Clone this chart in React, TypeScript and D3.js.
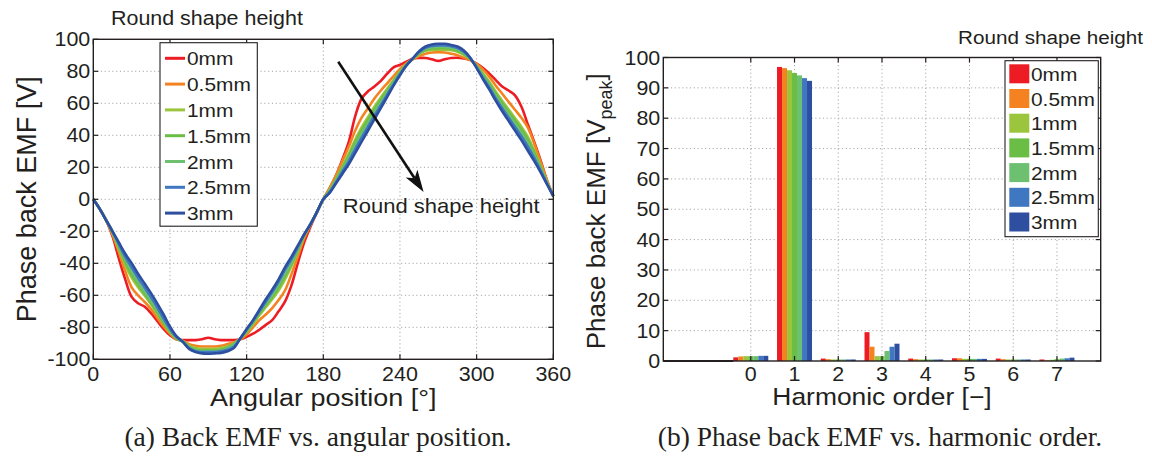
import React from "react";
import * as d3 from "d3";

// ---------- data ----------
const seriesNames = ["0mm", "0.5mm", "1mm", "1.5mm", "2mm", "2.5mm", "3mm"];
const seriesColors = ["#ED1C24", "#F58220", "#9BC53D", "#6ABD45", "#6CC070", "#3F78C1", "#2E4F9F"];

const angles = d3.range(0, 361, 5);

const emf0mm = [0, -6, -13, -23, -37, -50, -61, -65, -67, -71, -76, -81, -85, -87.5, -88, -88, -88, -87.5, -86.5, -87.5, -88, -88, -88, -87.5, -86, -84, -81.5, -78.5, -75.5, -70, -64, -54, -40, -27, -17, -8, 0,
  7, 15, 25, 36, 52, 63, 67.5, 70.5, 74, 78.5, 82.5, 84, 86, 87.8, 88.3, 88.3, 87.5, 86.5, 87.5, 88.3, 88.5, 88, 87, 84.8, 82, 78.5, 74.5, 70.5, 68, 65, 58, 47, 36, 24.5, 12, 2];
const emf05mm = [0, -6, -13, -22, -33, -45, -55, -60, -64, -68.5, -74, -79.5, -84, -87.5, -88.5, -90.5, -91.5, -92, -92, -92, -91.5, -90.5, -89.5, -87.5, -84.5, -80, -75.5, -72, -68, -63, -57, -47, -36, -24.5, -16, -8, 0,
  7, 15, 24, 33, 43, 51, 57, 63, 68, 72.5, 77, 81.5, 85, 87.5, 89.5, 91, 91.8, 92, 91.8, 91, 90, 88.5, 87, 84.5, 81, 76.5, 71, 66, 61, 56, 51, 45, 35, 23.5, 12, 2];
const emf1mm = [0, -6, -13, -21, -31, -41, -49, -55, -60, -65.5, -71.5, -77.5, -83, -87, -88.5, -91.5, -93, -93.5, -93.5, -93.5, -93, -92, -90, -87, -83, -78, -72.5, -67.5, -62.5, -57, -50, -42, -33, -23, -15.5, -8, 0,
  6, 13, 20.8, 28.6, 37.4, 45, 51.4, 57.8, 63.6, 69.1, 74.6, 79.9, 84.4, 87.7, 90.7, 92.8, 93.3, 93.5, 93.4, 93.2, 92.2, 90.3, 87.6, 83.5, 78.6, 73.3, 67.2, 61.6, 56.2, 50.8, 45.4, 39.2, 30.6, 20.9, 11, 2];
const emf15mm = [0, -6, -13, -20.5, -30, -39, -47, -53, -59, -64.5, -70.5, -77, -82.5, -87, -89, -92, -94, -94.5, -94.5, -94.5, -94, -92.5, -90.5, -87, -82.5, -77, -71.5, -66, -61, -55, -48, -40.5, -32, -22.5, -15.5, -8, 0,
  5.5, 12.3, 19.8, 27.2, 35.6, 43, 49.6, 56.1, 62.2, 68, 73.8, 79.4, 84.2, 87.8, 91.1, 93.4, 94.2, 94.5, 94.4, 93.9, 92.9, 90.9, 87.8, 83.2, 77.8, 72.3, 66, 60.2, 54.6, 49.1, 43.6, 37.3, 29.2, 20.1, 10.7, 2];
const emf2mm = [0, -6, -13, -20, -29, -37.5, -45, -51.5, -57.5, -63, -69.5, -76, -82, -86.5, -89, -92.5, -94.5, -95, -95, -95, -94.5, -93, -91, -87, -82, -76.5, -70.5, -65, -60, -53.5, -46.5, -39.5, -31, -22, -15.5, -8, 0,
  5, 11.7, 18.6, 25.6, 33.6, 41, 47.6, 54.3, 60.6, 66.8, 73, 78.8, 84, 87.8, 91.5, 94, 95, 95.3, 95.2, 94.7, 93.7, 91.5, 88, 82.8, 77, 71.1, 64.6, 58.6, 53, 47.3, 41.6, 35.3, 27.6, 19.1, 10.3, 2];
const emf25mm = [0, -6, -13, -20, -28, -36, -42.5, -49, -55, -61, -67.5, -74.5, -81, -86, -89, -93, -95, -95.5, -95.5, -95.5, -95, -94, -92, -87, -81.5, -76, -70, -64, -58, -51.5, -44, -37.5, -30, -22, -15.5, -8, 0,
  4.5, 10.8, 17.4, 23.9, 31.4, 38.5, 45.4, 52.2, 58.9, 65.4, 72, 78.2, 83.8, 87.9, 92, 94.7, 95.8, 96.2, 96.1, 95.6, 94.6, 92.2, 88.2, 82.4, 76, 69.9, 63.1, 56.9, 51, 45.2, 39.4, 33, 25.9, 18.1, 9.9, 2];
const emf3mm = [0, -6, -13, -20, -27, -34, -40, -46.5, -52.5, -58.5, -65, -72, -79.5, -85.5, -89, -93.5, -95.5, -96.3, -96.5, -96.3, -96, -95, -93, -87, -81, -75.5, -69, -62.5, -56.5, -50, -42.5, -36, -29, -22, -15.5, -8, 0,
  4, 10, 16, 22, 29, 36, 43, 50, 57, 64, 71, 77.5, 83.5, 88, 92.5, 95.5, 96.8, 97.2, 97.2, 96.5, 95.5, 93, 88.5, 82, 75, 68.5, 61.5, 55, 49, 43, 37, 30.5, 24, 17, 9.5, 2];
const emfSeries = [emf0mm, emf05mm, emf1mm, emf15mm, emf2mm, emf25mm, emf3mm];

const harmonics = [0, 1, 2, 3, 4, 5, 6, 7];
const harm0mm = [1.2, 96.9, 0.8, 9.5, 0.8, 0.9, 0.8, 0.5];
const harm05mm = [1.5, 96.5, 0.6, 4.7, 0.6, 0.9, 0.6, 0.2];
const harm1mm = [1.6, 95.8, 0.5, 1.6, 0.5, 0.7, 0.5, 0.4];
const harm15mm = [1.6, 94.9, 0.5, 1.6, 0.5, 0.7, 0.5, 0.6];
const harm2mm = [1.6, 94.1, 0.5, 3.3, 0.5, 0.7, 0.5, 0.8];
const harm25mm = [1.7, 93.2, 0.5, 4.7, 0.5, 0.7, 0.5, 0.9];
const harm3mm = [1.7, 92.3, 0.5, 5.7, 0.5, 0.7, 0.5, 1.1];
const harmSeries = [harm0mm, harm05mm, harm1mm, harm15mm, harm2mm, harm25mm, harm3mm];

const xTicksL = [0, 60, 120, 180, 240, 300, 360];
const yTicksL = [-100, -80, -60, -40, -20, 0, 20, 40, 60, 80, 100];
const xTicksR = [0, 1, 2, 3, 4, 5, 6, 7];
const yTicksR = [0, 10, 20, 30, 40, 50, 60, 70, 80, 90, 100];

// ---------- style ----------
const INK = "#231F20";
const GRID = "#A8A8A8";
const SANS = "'Liberation Sans', Arial, Helvetica, sans-serif";
const SERIF = "'Liberation Serif', 'Times New Roman', serif";
const SX = 1.1;

function T({ x, y, size, anchor = "start", children, family = SANS, sx = SX }: any) {
  return (
    <text
      transform={`translate(${x},${y}) scale(${sx},1)`}
      fontSize={size}
      fontFamily={family}
      textAnchor={anchor}
      fill={INK}
    >
      {children}
    </text>
  );
}

export default function App() {
  // left plot scales
  const xL = d3.scaleLinear().domain([0, 360]).range([93.3, 553.3]);
  const yL = d3.scaleLinear().domain([-100, 100]).range([359.3, 39.3]);
  // right plot scales
  const xR = d3.scaleLinear().domain([-2, 8]).range([663.3, 1100.7]);
  const yR = d3.scaleLinear().domain([0, 100]).range([361, 57.5]);
  const groupW = (xR(1) - xR(0)) * 0.8;
  const band = d3.scaleBand<string>().domain(seriesNames).range([-groupW / 2, groupW / 2]).padding(0);

  const line = d3
    .line<number>()
    .x((_, i) => xL(angles[i]))
    .y((v) => yL(v))
    .curve(d3.curveCatmullRom.alpha(0.5));

  const tickLen = 5;
  const xTickY = 380.5;

  // arrow annotation (data coords)
  const ax0 = xL(191.7), ay0 = yL(86);
  const ax1 = xL(258.5), ay1 = yL(4.5);
  const dx = ax1 - ax0, dy = ay1 - ay0;
  const len = Math.hypot(dx, dy);
  const ux = dx / len, uy = dy / len;
  const px = -uy, py = ux;
  const headL = 22, headW = 7;
  const bx = ax1 - ux * headL, by = ay1 - uy * headL;
  const nx = ax1 - ux * headL * 0.75, ny = ay1 - uy * headL * 0.75;
  const head = [
    [ax1, ay1],
    [bx + px * headW, by + py * headW],
    [nx, ny],
    [bx - px * headW, by - py * headW],
  ]
    .map((p) => p.join(","))
    .join(" ");

  const [lx0, lx1] = xL.range();
  const [ly0, ly1] = yL.range();
  const [rx0, rx1] = xR.range();
  const [ry0, ry1] = yR.range();

  return (
    <svg
      width={1152}
      height={458}
      style={{ position: "absolute", left: 0, top: 0, background: "#fff" }}
    >
      <rect x={0} y={0} width={1152} height={458} fill="#fff" />

      {/* ================= LEFT PLOT ================= */}
      <g>
        {xTicksL.filter((t) => t > 0 && t < 360).map((t) => (
          <line key={"gx" + t} x1={xL(t)} x2={xL(t)} y1={ly1} y2={ly0} stroke={GRID} strokeWidth={1} strokeDasharray="1.2 2.6" />
        ))}
        {yTicksL.filter((t) => t > -100 && t < 100).map((t) => (
          <line key={"gy" + t} x1={lx0} x2={lx1} y1={yL(t)} y2={yL(t)} stroke={GRID} strokeWidth={1} strokeDasharray="1.2 2.6" />
        ))}

        {emfSeries.map((s, i) => (
          <path key={seriesNames[i]} d={line(s) || ""} fill="none" stroke={seriesColors[i]} strokeWidth={2.6} strokeLinejoin="round" />
        ))}

        {/* axes box */}
        <rect x={lx0} y={ly1} width={lx1 - lx0} height={ly0 - ly1} fill="none" stroke={INK} strokeWidth={1.4} />
        {xTicksL.map((t) => (
          <g key={"tx" + t}>
            <line x1={xL(t)} x2={xL(t)} y1={ly0} y2={ly0 - tickLen} stroke={INK} strokeWidth={1.2} />
            <line x1={xL(t)} x2={xL(t)} y1={ly1} y2={ly1 + tickLen} stroke={INK} strokeWidth={1.2} />
            <T x={xL(t)} y={xTickY} size={19.5} anchor="middle">{t}</T>
          </g>
        ))}
        {yTicksL.map((t) => (
          <g key={"ty" + t}>
            <line x1={lx0} x2={lx0 + tickLen} y1={yL(t)} y2={yL(t)} stroke={INK} strokeWidth={1.2} />
            <line x1={lx1} x2={lx1 - tickLen} y1={yL(t)} y2={yL(t)} stroke={INK} strokeWidth={1.2} />
            <T x={lx0 - 3} y={yL(t) + 7} size={19.5} anchor="end">{t}</T>
          </g>
        ))}

        <T x={(lx0 + lx1) / 2} y={406} size={24.5} anchor="middle">Angular position [°]</T>
        <text
          transform={`translate(36,${(ly0 + ly1) / 2}) rotate(-90)`}
          fontSize={27}
          fontFamily={SANS}
          textAnchor="middle"
          fill={INK}
        >
          Phase back EMF [V]
        </text>

        <T x={111} y={25} size={19.5}>Round shape height</T>

        {/* annotation arrow */}
        <line x1={ax0} y1={ay0} x2={nx} y2={ny} stroke="#111" strokeWidth={2.6} />
        <polygon points={head} fill="#111" />
        <T x={xL(195.3)} y={213.3} size={20}>Round shape height</T>

        {/* legend */}
        <rect x={160} y={42.7} width={97.3} height={183.5} fill="#fff" stroke={INK} strokeWidth={1.1} />
        {seriesNames.map((n, i) => {
          const cy = 58.3 + i * 25.8;
          return (
            <g key={"ll" + n}>
              <line x1={165} x2={185} y1={cy} y2={cy} stroke={seriesColors[i]} strokeWidth={3} />
              <T x={187} y={cy + 7} size={19}>{n}</T>
            </g>
          );
        })}
      </g>

      {/* ================= RIGHT PLOT ================= */}
      <g>
        {xTicksR.map((t) => (
          <line key={"rgx" + t} x1={xR(t)} x2={xR(t)} y1={ry1} y2={ry0} stroke={GRID} strokeWidth={1} strokeDasharray="1.2 2.6" />
        ))}
        {yTicksR.filter((t) => t > 0 && t < 100).map((t) => (
          <line key={"rgy" + t} x1={rx0} x2={rx1} y1={yR(t)} y2={yR(t)} stroke={GRID} strokeWidth={1} strokeDasharray="1.2 2.6" />
        ))}

        {harmSeries.map((s, si) =>
          s.map((v, hi) => {
            const x = xR(harmonics[hi]) + (band(seriesNames[si]) || 0);
            return (
              <rect
                key={si + "-" + hi}
                x={x}
                y={yR(v)}
                width={band.bandwidth()}
                height={yR(0) - yR(v)}
                fill={seriesColors[si]}
              />
            );
          })
        )}

        <rect x={rx0} y={ry1} width={rx1 - rx0} height={ry0 - ry1} fill="none" stroke={INK} strokeWidth={1.4} />
        <line x1={rx0} x2={xR(harmonics[0]) - groupW / 2} y1={ry0} y2={ry0} stroke={INK} strokeWidth={2} />
        {xTicksR.map((t) => (
          <g key={"rtx" + t}>
            <line x1={xR(t)} x2={xR(t)} y1={ry0} y2={ry0 - tickLen} stroke={INK} strokeWidth={1.2} />
            <line x1={xR(t)} x2={xR(t)} y1={ry1} y2={ry1 + tickLen} stroke={INK} strokeWidth={1.2} />
            <T x={xR(t)} y={xTickY} size={19.5} anchor="middle">{t}</T>
          </g>
        ))}
        {yTicksR.map((t) => (
          <g key={"rty" + t}>
            <line x1={rx0} x2={rx0 + tickLen} y1={yR(t)} y2={yR(t)} stroke={INK} strokeWidth={1.2} />
            <line x1={rx1} x2={rx1 - tickLen} y1={yR(t)} y2={yR(t)} stroke={INK} strokeWidth={1.2} />
            <T x={rx0 - 3} y={yR(t) + 7} size={19.5} anchor="end">{t}</T>
          </g>
        ))}

        <T x={(rx0 + rx1) / 2} y={405} size={24} anchor="middle">Harmonic order [−]</T>
        <text
          transform={`translate(605,${(ry0 + ry1) / 2 + 2}) rotate(-90)`}
          fontSize={26}
          fontFamily={SANS}
          textAnchor="middle"
          fill={INK}
        >
          Phase back EMF [V
          <tspan fontSize={18} dy={7}>peak</tspan>
          <tspan dy={-7}>]</tspan>
        </text>

        <T x={958} y={44} size={18.8}>Round shape height</T>

        <rect x={1005} y={60.7} width={93.3} height={176} fill="#fff" stroke={INK} strokeWidth={1.1} />
        {seriesNames.map((n, i) => {
          const top = 64.3 + i * 24.7;
          return (
            <g key={"rl" + n}>
              <rect x={1009.3} y={top} width={20} height={19} fill={seriesColors[i]} />
              <T x={1031} y={top + 16.5} size={19}>{n}</T>
            </g>
          );
        })}
      </g>

      {/* captions */}
      <T x={318} y={446} size={27.5} anchor="middle" family={SERIF} sx={1}>(a) Back EMF vs. angular position.</T>
      <T x={880} y={446} size={27.5} anchor="middle" family={SERIF} sx={1}>(b) Phase back EMF vs. harmonic order.</T>
    </svg>
  );
}
